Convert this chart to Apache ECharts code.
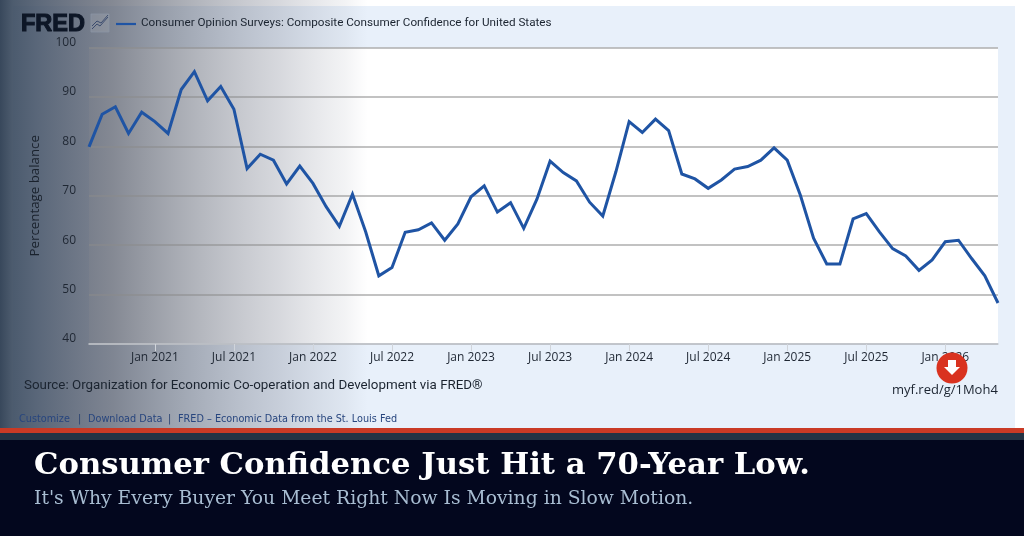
<!DOCTYPE html>
<html><head><meta charset="utf-8">
<style>html,body{margin:0;padding:0;background:#fff}#c{width:1024px;height:536px}</style>
<script src="https://cdn.jsdelivr.net/npm/echarts@6/dist/echarts.min.js"></script></head>
<body><div id="c"></div>
<script>
const seriesName = 'Consumer Opinion Surveys: Composite Consumer Confidence for United States';
const months = ['Jan','Feb','Mar','Apr','May','Jun','Jul','Aug','Sep','Oct','Nov','Dec'];
const values = [
 79.9,86.5,88.0,82.6,86.9,
 85.0,82.6,91.5,95.1,89.2,92.1,87.5,75.5,78.4,77.2,72.4,76.0,
 72.5,67.8,63.8,70.3,62.7,53.8,55.5,62.6,63.1,64.5,61.0,64.3,
 69.8,72.0,66.7,68.6,63.4,69.3,77.0,74.7,73.0,68.7,65.9,74.9,
 85.0,82.8,85.5,83.2,74.4,73.4,71.5,73.2,75.4,75.9,77.2,79.7,
 77.2,70.1,61.4,56.2,56.2,65.3,66.4,62.7,59.3,57.8,54.9,57.0,
 60.7,61.0,57.3,53.8,48.3
];
const categories = values.map((_, i) => {
  const m = 7 + i; // first point: Aug 2020
  return months[m % 12] + ' ' + (2020 + Math.floor(m / 12));
});
const isTick = (i, name) => name.startsWith('Jan') || name.startsWith('Jul');

const chart = echarts.init(document.getElementById('c'), null, {renderer:'canvas', width:1024, height:536});
const R = (x,y,w,h,fill,z) => ({type:'rect',silent:true,z:z,shape:{x,y,width:w,height:h},style:{fill}});
const T = (x,y,text,font,fill,extra,z,sx) => ({type:'text',silent:true,z:z||20,x,y,scaleX:sx||1,style:Object.assign({text,font,fill,textVerticalAlign:'middle'},extra||{})});
const overlay = {type:'linear',x:0,y:0,x2:1,y2:0,colorStops:[
  {offset:0,color:'rgba(52,68,88,0.98)'},
  {offset:0.035,color:'rgba(62,78,98,0.92)'},
  {offset:0.1,color:'rgba(66,80,100,0.86)'},
  {offset:0.245,color:'rgba(84,92,108,0.78)'},
  {offset:0.307,color:'rgba(90,96,110,0.74)'},
  {offset:0.49,color:'rgba(100,106,120,0.55)'},
  {offset:0.76,color:'rgba(130,135,150,0.32)'},
  {offset:0.94,color:'rgba(145,150,165,0.11)'},
  {offset:1,color:'rgba(160,165,180,0)'}]};
chart.setOption({
  animation:false,
  backgroundColor:'#ffffff',
  textStyle:{fontFamily:'Roboto'},
  grid:{left:89,right:26,top:47.5,height:296.5,containLabel:false},
  xAxis:{type:'category',data:categories,boundaryGap:false,
    axisLine:{show:true,lineStyle:{color:'#c4c8ce',width:1.5}},
    axisTick:{show:true,length:7,interval:isTick,lineStyle:{color:'#d0d4da'}},
    axisLabel:{interval:isTick,margin:8,fontFamily:'Open Sans',fontSize:12,color:'#1f2733',formatter:v=>v},
    splitLine:{show:false}},
  yAxis:{type:'value',min:40,max:100,interval:10,
    name:'Percentage balance',nameLocation:'middle',nameGap:47,
    nameTextStyle:{fontFamily:'Open Sans',fontSize:13.3,color:'#1a222d'},
    axisLine:{show:false},axisTick:{show:false},
    axisLabel:{margin:13,fontFamily:'Open Sans',fontSize:12,color:'#1f2733',verticalAlign:'bottom',lineHeight:12,padding:[0,0,-1,0]},
    splitLine:{show:true,lineStyle:{color:'rgba(140,140,140,0.7)',width:1.6}}},
  series:[{type:'line',name:seriesName,data:values,showSymbol:false,symbol:'none',z:5,
    lineStyle:{color:'#1f54a4',width:3,join:'miter'},clip:true}],
  graphic:[
    R(13,6,1002,422,'#e8f0fa',-30),
    R(89,47.5,909,296.5,'#ffffff',-29),
    R(0,0,368,428,overlay,-20),
    // FRED logo
    T(21,25,'FRED','bold 23.5px "Liberation Sans"','#0d1626',{stroke:'#0d1626',lineWidth:1.1}),
    {type:'rect',silent:true,z:20,shape:{x:91,y:14,width:18,height:18},style:{fill:'rgba(255,255,255,0.12)',stroke:'#8b95a5',lineWidth:0.8}},
    {type:'polyline',silent:true,z:21,shape:{points:[[92,29],[97,24],[100,26],[108,17]]},style:{stroke:'#33456a',fill:null,lineWidth:0.9}},
    {type:'polyline',silent:true,z:21,shape:{points:[[92,26],[97,21],[101,23],[108,15]]},style:{stroke:'#33456a',fill:null,lineWidth:0.9}},
    // legend
    {type:'line',silent:true,z:20,shape:{x1:116,y1:24,x2:136,y2:24},style:{stroke:'#1f54a4',lineWidth:2.2}},
    T(141,23,seriesName,'11.7px Roboto','#1b2430'),
    // source and link
    T(24,386,'Source: Organization for Economic Co-operation and Development via FRED®','13.37px Roboto','#1b2430'),
    T(892,390,'myf.red/g/1Moh4','13px "Open Sans"','#1b2430'),
    // footer links
    T(19,419.5,'Customize','9.7px "DejaVu Sans"','#27457e'),
    T(78,419.5,'|','9.7px "DejaVu Sans"','#27406e'),
    T(88,419.5,'Download Data','9.7px "DejaVu Sans"','#27457e'),
    T(168,419.5,'|','9.7px "DejaVu Sans"','#27406e'),
    T(178,419.5,'FRED – Economic Data from the St. Louis Fed','9.7px "DejaVu Sans"','#27457e'),
    // badge
    {type:'circle',silent:true,z:30,shape:{cx:952,cy:368,r:15.5},style:{fill:'#d9321f'}},
    {type:'polygon',silent:true,z:31,shape:{points:[[948,360],[956,360],[956,367],[960,367],[952,375],[944,367],[948,367]]},style:{fill:'#ffffff'}},
    // banner
    R(0,428,1024,5,'#c93a25',40),
    R(0,433,1024,7,'#243344',40),
    R(0,440,1024,96,'#03071e',40),
    T(34,466.5,'Consumer Confidence Just Hit a 70-Year Low.','bold 29.5px "DejaVu Serif"','#ffffff',{},45,1.04),
    T(34,499,"It's Why Every Buyer You Meet Right Now Is Moving in Slow Motion.",'18.5px "DejaVu Serif"','#a8bdd2',{},45,1.014)
  ]
});
</script></body></html>
